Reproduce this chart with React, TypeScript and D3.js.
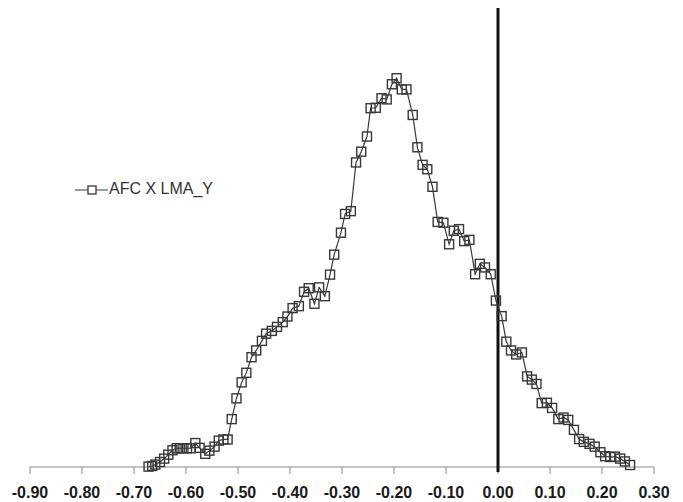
import React from 'react'
import * as d3 from 'd3'

// AFC X LMA_Y distribution
const xValues = [
  -0.672, -0.665, -0.659, -0.65, -0.642, -0.634, -0.626, -0.618, -0.612, -0.605,
  -0.598, -0.591, -0.582, -0.574, -0.563, -0.555, -0.545, -0.537, -0.528, -0.52,
  -0.512, -0.503, -0.493, -0.484, -0.474, -0.465, -0.454, -0.446, -0.435, -0.425,
  -0.414, -0.405, -0.395, -0.383, -0.373, -0.364, -0.353, -0.344, -0.333, -0.323,
  -0.315, -0.302, -0.294, -0.283, -0.273, -0.263, -0.252, -0.245, -0.235, -0.224,
  -0.214, -0.204, -0.195, -0.185, -0.176, -0.164, -0.155, -0.145, -0.136, -0.126,
  -0.116, -0.105, -0.094, -0.085, -0.075, -0.065, -0.055, -0.044, -0.035, -0.025,
  -0.014, -0.004, 0.007, 0.016, 0.025, 0.035, 0.046, 0.056, 0.065, 0.074,
  0.084, 0.094, 0.104, 0.116, 0.126, 0.135, 0.146, 0.156, 0.165, 0.176,
  0.186, 0.197, 0.206, 0.216, 0.225, 0.235, 0.244, 0.254,
]

const yValues = [
  0.1, 0.25, 0.6, 1.25, 2.1, 3.1, 4.2, 4.7, 4.7, 4.7,
  4.7, 4.7, 6.0, 4.8, 3.3, 4.1, 5.1, 6.6, 6.9, 6.9,
  12.0, 17.2, 21.2, 23.6, 27.5, 29.2, 31.6, 33.4, 34.1, 35.1,
  36.3, 37.7, 39.8, 40.3, 43.9, 44.8, 40.9, 45.0, 42.8, 48.2,
  53.2, 58.7, 63.4, 64.1, 76.3, 79.0, 82.8, 89.9, 90.0, 92.4,
  92.1, 95.9, 97.4, 94.6, 94.6, 88.2, 80.1, 75.7, 74.6, 70.2,
  61.4, 61.2, 55.8, 59.2, 59.6, 56.6, 56.9, 48.3, 50.9, 50.0,
  48.3, 41.7, 37.8, 31.4, 29.2, 28.2, 28.7, 22.7, 21.9, 20.8,
  16.0, 16.1, 14.8, 12.0, 12.4, 11.8, 9.3, 7.0, 6.3, 5.8,
  5.1, 3.7, 2.7, 2.5, 2.6, 2.1, 1.4, 0.5,
]

const xTicks = [-0.9, -0.8, -0.7, -0.6, -0.5, -0.4, -0.3, -0.2, -0.1, 0, 0.1, 0.2, 0.3]

const seriesName = 'AFC X LMA_Y'

const W = 683
const H = 502
const FONT = "'Liberation Sans', Arial, sans-serif"
const INK = '#383838'

export default function App() {
  const x = d3.scaleLinear().domain([-0.9, 0.3]).range([30, 654])
  const y = d3.scaleLinear().domain([0, 115]).range([467, 8])

  const pts: [number, number][] = xValues.map((v, i) => [v, yValues[i]])
  const line = d3
    .line<[number, number]>()
    .x((d) => x(d[0]))
    .y((d) => y(d[1]))

  const ms = 9 // marker size
  const legendY = 190

  return (
    <svg
      width={W}
      height={H}
      style={{ position: 'fixed', left: 0, top: 0, background: '#fff' }}
    >
      <rect width={W} height={H} fill="#fff" />

      {/* x axis */}
      <line x1={x(-0.9)} x2={x(0.3)} y1={y(0)} y2={y(0)} stroke="#8c8c8c" strokeWidth={1} />
      {xTicks.map((t) => (
        <g key={t}>
          <line x1={x(t)} x2={x(t)} y1={y(0)} y2={y(0) + 7} stroke="#8c8c8c" strokeWidth={1} />
          <text
            x={x(t)}
            y={498}
            textAnchor="middle"
            fontFamily={FONT}
            fontSize={16}
            fontWeight="bold"
            fill="#1a1a1a"
          >
            {t.toFixed(2)}
          </text>
        </g>
      ))}

      {/* zero reference line */}
      <line x1={x(0)} x2={x(0)} y1={y(115)} y2={y(0) + 5} stroke="#111" strokeWidth={3} />

      {/* series */}
      <path d={line(pts) ?? ''} fill="none" stroke={INK} strokeWidth={1.2} />
      {pts.map((d, i) => (
        <rect
          key={i}
          x={x(d[0]) - ms / 2}
          y={y(d[1]) - ms / 2}
          width={ms}
          height={ms}
          fill="none"
          stroke={INK}
          strokeWidth={1.4}
        />
      ))}

      {/* legend */}
      <g>
        <line x1={75} x2={108} y1={legendY} y2={legendY} stroke={INK} strokeWidth={1.2} />
        <rect x={92 - 4} y={legendY - 4} width={8} height={8} fill="#fff" stroke={INK} strokeWidth={1.3} />
        <text
          x={109}
          y={legendY}
          dominantBaseline="middle"
          fontFamily={FONT}
          fontSize={16}
          fill="#333"
        >
          {seriesName}
        </text>
      </g>
    </svg>
  )
}
